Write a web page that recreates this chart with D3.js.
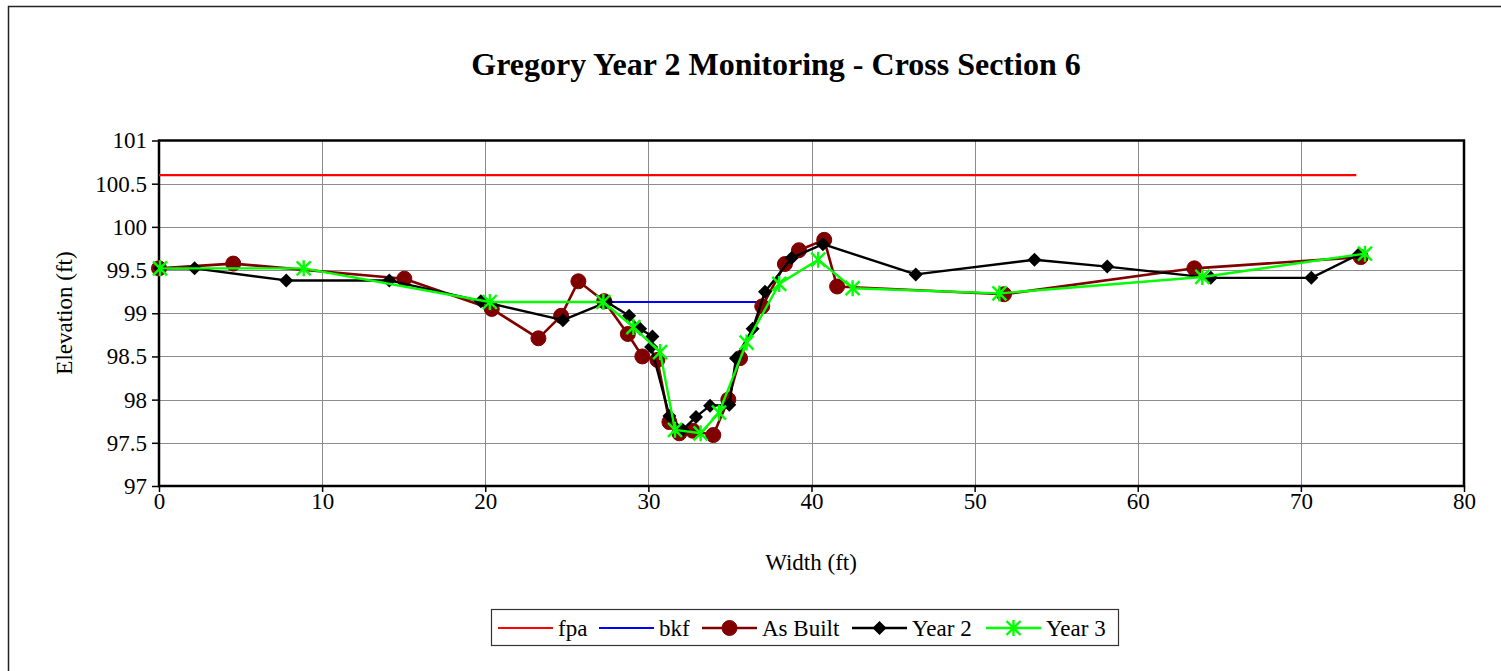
<!DOCTYPE html>
<html>
<head>
<meta charset="utf-8">
<script src="https://cdn.jsdelivr.net/npm/d3@7"></script>
<style>
  html, body { margin: 0; padding: 0; background: #fff; }
  svg { display: block; }
  text { font-family: "Liberation Serif", "Times New Roman", serif; fill: #000; }
</style>
</head>
<body>
<svg id="chart" width="1501" height="671"></svg>
<script>
// Cross-section survey: station (ft) vs elevation (ft)
const fpaX = [0, 73.4];
const fpaY = [100.6, 100.6];

const bkfX = [27.3, 36.65];
const bkfY = [99.13, 99.13];

const asBuiltX = [0, 4.55, 15.04, 20.4, 23.26, 24.65, 25.71, 27.29, 28.74, 29.63, 30.55, 31.29, 31.9, 32.72, 33.98, 34.9, 35.62, 36.98, 38.37, 39.23, 40.78, 41.57, 51.8, 63.47, 73.67];
const asBuiltY = [99.52, 99.575, 99.4, 99.05, 98.71, 98.97, 99.37, 99.14, 98.76, 98.5, 98.46, 97.74, 97.61, 97.64, 97.59, 98.0, 98.48, 99.08, 99.57, 99.73, 99.85, 99.31, 99.22, 99.52, 99.65];

const year2X = [0.06, 2.18, 7.8, 14.12, 19.73, 24.76, 27.45, 28.82, 29.49, 30.25, 30.17, 31.29, 32.1, 32.92, 33.78, 34.96, 35.37, 36.39, 37.15, 38.78, 40.7, 46.39, 53.67, 58.13, 64.48, 70.64, 73.54];
const year2Y = [99.52, 99.52, 99.38, 99.38, 99.14, 98.92, 99.13, 98.97, 98.82, 98.73, 98.61, 97.81, 97.65, 97.8, 97.93, 97.94, 98.48, 98.82, 99.25, 99.64, 99.8, 99.45, 99.62, 99.54, 99.41, 99.41, 99.68];

const year3X = [0.06, 8.87, 20.28, 27.24, 29.08, 30.72, 31.63, 33.2, 34.33, 36.02, 38.02, 40.41, 42.52, 51.52, 63.96, 73.93];
const year3Y = [99.52, 99.52, 99.13, 99.13, 98.84, 98.55, 97.65, 97.61, 97.85, 98.66, 99.34, 99.62, 99.29, 99.23, 99.42, 99.69];

const xTicks = [0, 10, 20, 30, 40, 50, 60, 70, 80];
const yTicks = [97, 97.5, 98, 98.5, 99, 99.5, 100, 100.5, 101];

const titleText = "Gregory Year 2 Monitoring - Cross Section 6";
const xLabel = "Width (ft)";
const yLabel = "Elevation (ft)";

const svg = d3.select("#chart");

// outer chart frame (runs off the right and bottom edges)
svg.append("rect")
  .attr("x", 8.5).attr("y", 6.5)
  .attr("width", 1520).attr("height", 700)
  .attr("fill", "#fff").attr("stroke", "#222").attr("stroke-width", 1.5);

const plot = { left: 159, right: 1464, top: 140.5, bottom: 486 };

const x = d3.scaleLinear().domain([0, 80]).range([plot.left, plot.right]);
const y = d3.scaleLinear().domain([97, 101]).range([plot.bottom, plot.top]);

// gridlines
const grid = svg.append("g").attr("stroke", "#8c8c8c").attr("stroke-width", 1);
grid.selectAll("line.h").data(yTicks.slice(1, -1)).join("line")
  .attr("x1", plot.left).attr("x2", plot.right)
  .attr("y1", d => Math.round(y(d)) + 0.5).attr("y2", d => Math.round(y(d)) + 0.5);
grid.selectAll("line.v").data(xTicks.slice(1, -1)).join("line")
  .attr("y1", plot.top).attr("y2", plot.bottom)
  .attr("x1", d => Math.round(x(d)) + 0.5).attr("x2", d => Math.round(x(d)) + 0.5);

// axes
const yAxis = svg.append("g")
  .attr("transform", `translate(${plot.left},0)`)
  .call(d3.axisLeft(y).tickValues(yTicks).tickSize(7).tickPadding(5).tickFormat(d => String(d)));
const xAxis = svg.append("g")
  .attr("transform", `translate(0,${plot.bottom})`)
  .call(d3.axisBottom(x).tickValues(xTicks).tickSize(6).tickPadding(1).tickFormat(d => String(d)));
[xAxis, yAxis].forEach(a => {
  a.select(".domain").remove();
  a.selectAll(".tick line").attr("stroke", "#000").attr("stroke-width", 1.5);
  a.selectAll(".tick text").attr("font-family", "Liberation Serif, serif").attr("font-size", 23).attr("fill", "#000");
});

// plot frame
svg.append("rect")
  .attr("x", plot.left).attr("y", plot.top)
  .attr("width", plot.right - plot.left).attr("height", plot.bottom - plot.top)
  .attr("fill", "none").attr("stroke", "#000").attr("stroke-width", 2.5);

const line = d3.line().x(d => x(d[0])).y(d => y(d[1]));
const zip = (xs, ys) => xs.map((v, i) => [v, ys[i]]);

// marker drawers
function circleMarker(g, pts, color) {
  g.selectAll("circle").data(pts).join("circle")
    .attr("cx", d => x(d[0])).attr("cy", d => y(d[1])).attr("r", 7.5)
    .attr("fill", color).attr("stroke", color);
}
function diamondMarker(g, pts, color) {
  const s = 7;
  g.selectAll("path.m").data(pts).join("path").attr("class", "m")
    .attr("d", d => { const cx = x(d[0]), cy = y(d[1]);
      return `M${cx},${cy - s}L${cx + s},${cy}L${cx},${cy + s}L${cx - s},${cy}Z`; })
    .attr("fill", color);
}
function starMarker(g, pts, color) {
  const s = 7;
  g.selectAll("path.m").data(pts).join("path").attr("class", "m")
    .attr("d", d => { const cx = x(d[0]), cy = y(d[1]);
      return `M${cx - s},${cy - s}L${cx + s},${cy + s}M${cx - s},${cy + s}L${cx + s},${cy - s}M${cx},${cy - s - 1}L${cx},${cy + s + 1}`; })
    .attr("stroke", color).attr("stroke-width", 2.4).attr("fill", "none");
}

const series = [
  { name: "fpa", xs: fpaX, ys: fpaY, color: "#ff0000", width: 2.2, marker: null },
  { name: "bkf", xs: bkfX, ys: bkfY, color: "#0000ff", width: 2.2, marker: null },
  { name: "As Built", xs: asBuiltX, ys: asBuiltY, color: "#800000", width: 2.6, marker: circleMarker },
  { name: "Year 2", xs: year2X, ys: year2Y, color: "#000000", width: 2.4, marker: diamondMarker },
  { name: "Year 3", xs: year3X, ys: year3Y, color: "#00ff00", width: 2.4, marker: starMarker }
];

series.forEach(s => {
  const pts = zip(s.xs, s.ys);
  const g = svg.append("g");
  g.append("path").datum(pts).attr("d", line)
    .attr("fill", "none").attr("stroke", s.color).attr("stroke-width", s.width)
    .attr("stroke-linejoin", "round");
  if (s.marker) s.marker(g, pts, s.color);
});

// title and axis titles
svg.append("text").attr("x", 776).attr("y", 75).attr("text-anchor", "middle")
  .attr("font-size", 32).attr("font-weight", "bold").text(titleText);
svg.append("text").attr("x", 811).attr("y", 570).attr("text-anchor", "middle")
  .attr("font-size", 23).text(xLabel);
svg.append("text").attr("transform", "translate(72,313) rotate(-90)").attr("text-anchor", "middle")
  .attr("font-size", 23).text(yLabel);

// legend
const legend = svg.append("g");
legend.append("rect").attr("x", 491.5).attr("y", 609.5).attr("width", 627).attr("height", 36)
  .attr("fill", "#fff").attr("stroke", "#333").attr("stroke-width", 1.2);
const legendX = [498, 599, 702, 852, 986];
series.forEach((s, i) => {
  const lx = legendX[i], ly = 628;
  const g = legend.append("g");
  g.append("line").attr("x1", lx).attr("x2", lx + 55).attr("y1", ly).attr("y2", ly)
    .attr("stroke", s.color).attr("stroke-width", s.width);
  if (s.marker) {
    // single marker at the middle of the sample line
    const mid = [x.invert(lx + 27.5), y.invert(ly)];
    s.marker(g, [mid], s.color);
  }
  g.append("text").attr("x", lx + 60).attr("y", ly + 7.5).attr("font-size", 23).text(s.name);
});
</script>
</body>
</html>
